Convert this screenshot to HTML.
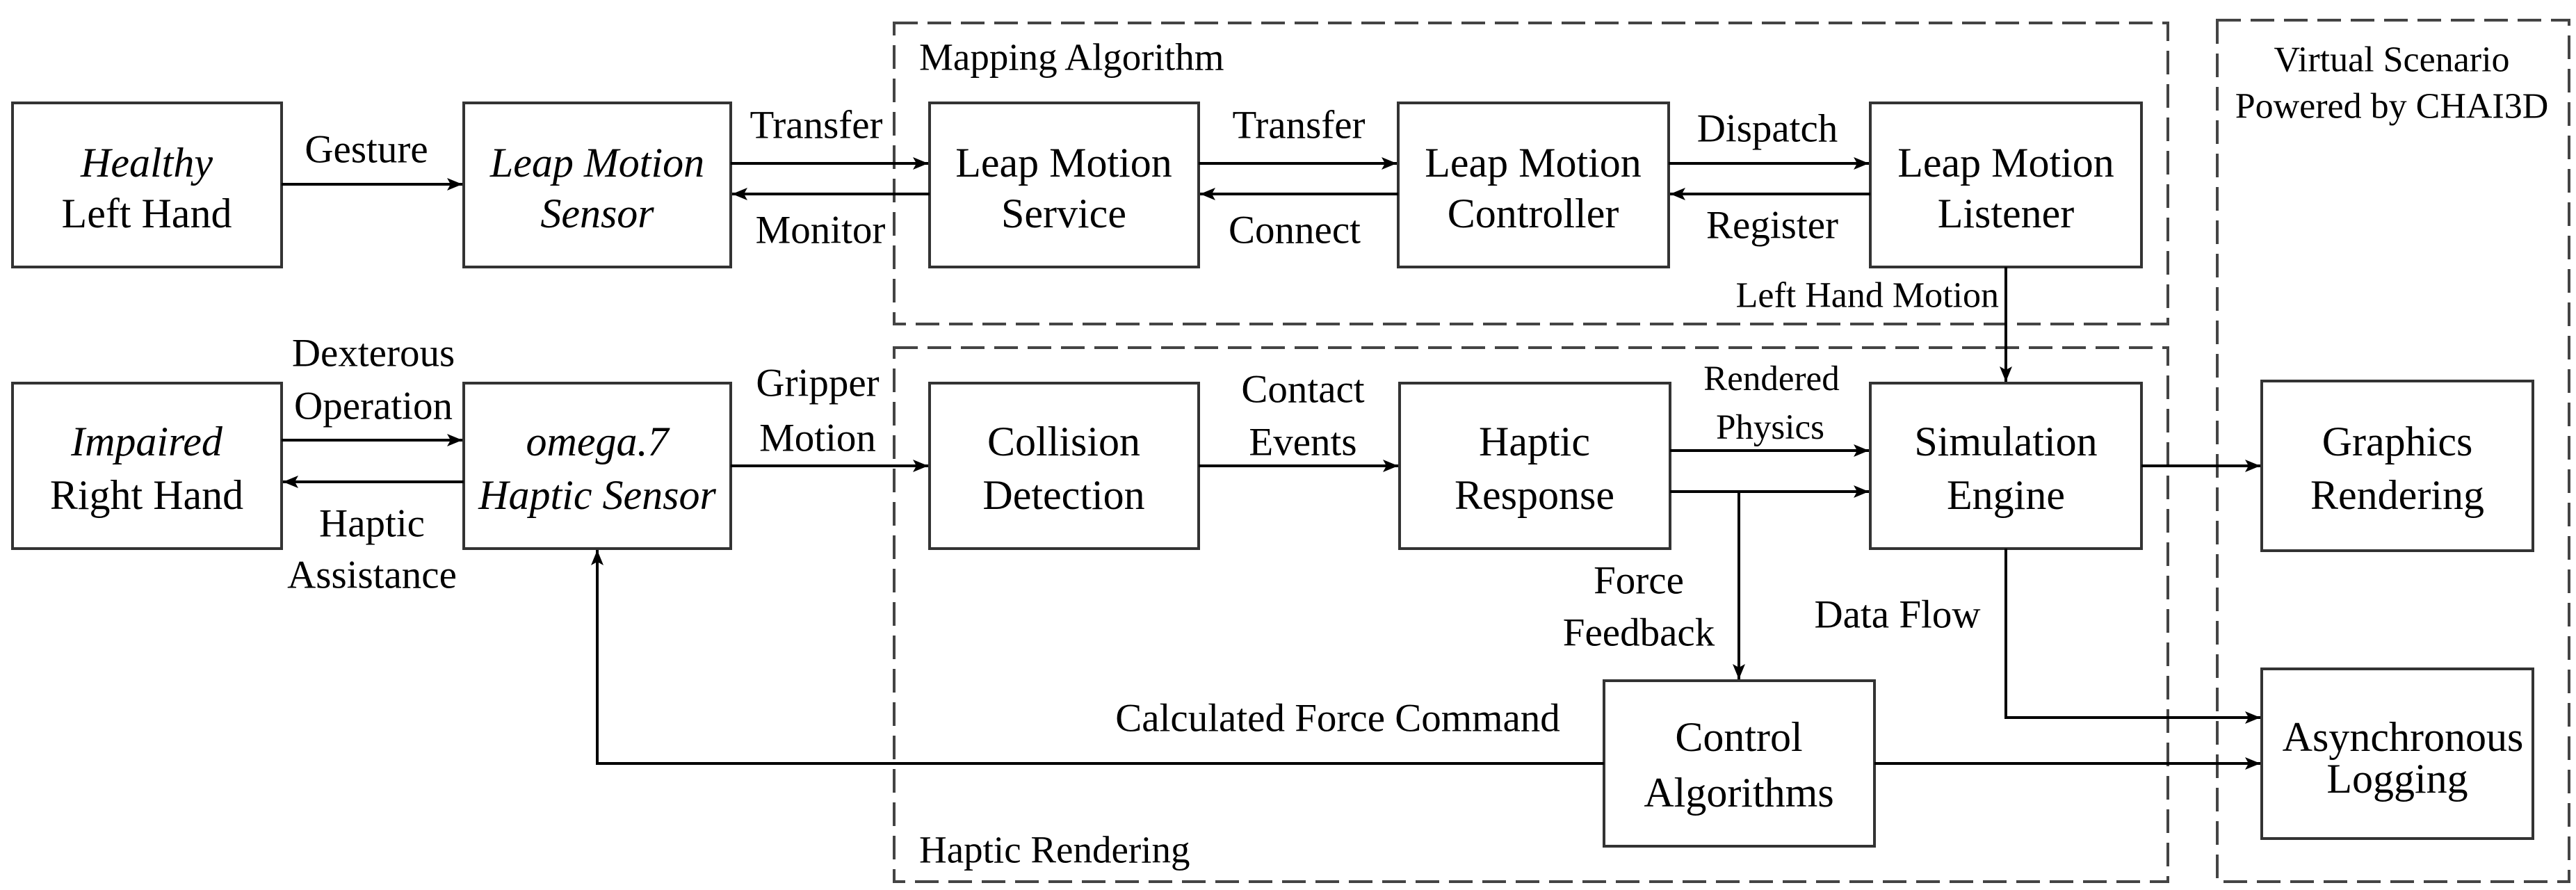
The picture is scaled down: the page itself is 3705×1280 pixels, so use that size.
<!DOCTYPE html>
<html><head><meta charset="utf-8"><style>
html,body{margin:0;padding:0;background:#fff}
svg{display:block}
text{font-family:"Liberation Serif",serif;fill:#000}
</style></head><body>
<svg width="3705" height="1280" viewBox="0 0 3705 1280" xmlns="http://www.w3.org/2000/svg">
<defs>
<marker id="a" markerWidth="24" markerHeight="20" refX="22" refY="10" orient="auto" markerUnits="userSpaceOnUse">
<path d="M0,1 L22,10 L0,19 L5,10 z" fill="#000"/>
</marker>
</defs>
<!-- dashed groups -->
<g fill="none" stroke="#444" stroke-width="4" stroke-dasharray="34 14">
<rect x="1286" y="33" width="1832" height="433"/>
<rect x="1286" y="500" width="1832" height="768"/>
<rect x="3189" y="29" width="506" height="1239"/>
</g>
<!-- boxes -->
<g fill="#fff" stroke="#333" stroke-width="4">
<rect x="18" y="148" width="387" height="236"/>
<rect x="667" y="148" width="384" height="236"/>
<rect x="1337" y="148" width="387" height="236"/>
<rect x="2011" y="148" width="389" height="236"/>
<rect x="2690" y="148" width="390" height="236"/>
<rect x="18" y="551" width="387" height="238"/>
<rect x="667" y="551" width="384" height="238"/>
<rect x="1337" y="551" width="387" height="238"/>
<rect x="2013" y="551" width="389" height="238"/>
<rect x="2690" y="551" width="390" height="238"/>
<rect x="3253" y="548" width="390" height="244"/>
<rect x="3253" y="962" width="390" height="244"/>
<rect x="2307" y="979" width="389" height="238"/>
</g>
<!-- connectors -->
<g fill="none" stroke="#000" stroke-width="4">
<line x1="405" y1="265" x2="665" y2="265" marker-end="url(#a)"/>
<line x1="1051" y1="235" x2="1335" y2="235" marker-end="url(#a)"/>
<line x1="1337" y1="279" x2="1053" y2="279" marker-end="url(#a)"/>
<line x1="1724" y1="235" x2="2009" y2="235" marker-end="url(#a)"/>
<line x1="2011" y1="279" x2="1726" y2="279" marker-end="url(#a)"/>
<line x1="2400" y1="235" x2="2688" y2="235" marker-end="url(#a)"/>
<line x1="2690" y1="279" x2="2402" y2="279" marker-end="url(#a)"/>
<line x1="2885" y1="384" x2="2885" y2="549" marker-end="url(#a)"/>
<line x1="405" y1="633" x2="665" y2="633" marker-end="url(#a)"/>
<line x1="667" y1="693" x2="407" y2="693" marker-end="url(#a)"/>
<line x1="1051" y1="670" x2="1335" y2="670" marker-end="url(#a)"/>
<line x1="1724" y1="670" x2="2011" y2="670" marker-end="url(#a)"/>
<line x1="2402" y1="648" x2="2688" y2="648" marker-end="url(#a)"/>
<line x1="2402" y1="707" x2="2688" y2="707" marker-end="url(#a)"/>
<line x1="2501" y1="707" x2="2501" y2="977" marker-end="url(#a)"/>
<line x1="3080" y1="670" x2="3251" y2="670" marker-end="url(#a)"/>
<polyline points="2885,789 2885,1032 3251,1032" marker-end="url(#a)"/>
<line x1="2696" y1="1098" x2="3251" y2="1098" marker-end="url(#a)"/>
<polyline points="2307,1098 859,1098 859,791" marker-end="url(#a)"/>
</g>
<!-- box labels -->
<g font-size="60" text-anchor="middle" dominant-baseline="central">
<text x="211" y="234" font-style="italic">Healthy</text>
<text x="211" y="307">Left Hand</text>
<text x="859" y="234" font-style="italic">Leap Motion</text>
<text x="859" y="307" font-style="italic">Sensor</text>
<text x="1530" y="234">Leap Motion</text>
<text x="1530" y="307">Service</text>
<text x="2205" y="234">Leap Motion</text>
<text x="2205" y="307">Controller</text>
<text x="2885" y="234">Leap Motion</text>
<text x="2885" y="307">Listener</text>
<text x="211" y="635" font-style="italic">Impaired</text>
<text x="211" y="712">Right Hand</text>
<text x="859" y="635" font-style="italic">omega.7</text>
<text x="859" y="712" font-style="italic">Haptic Sensor</text>
<text x="1530" y="635">Collision</text>
<text x="1530" y="712">Detection</text>
<text x="2207" y="635">Haptic</text>
<text x="2207" y="712">Response</text>
<text x="2885" y="635">Simulation</text>
<text x="2885" y="712">Engine</text>
<text x="3448" y="635">Graphics</text>
<text x="3448" y="712">Rendering</text>
<text x="3456" y="1060">Asynchronous</text>
<text x="3448" y="1120">Logging</text>
<text x="2501" y="1060">Control</text>
<text x="2501" y="1140">Algorithms</text>
</g>
<!-- connector labels -->
<g font-size="57" text-anchor="middle" dominant-baseline="central">
<text x="527" y="215">Gesture</text>
<text x="1174" y="180">Transfer</text>
<text x="1180" y="331">Monitor</text>
<text x="1868" y="180">Transfer</text>
<text x="1862" y="331">Connect</text>
<text x="2542" y="185">Dispatch</text>
<text x="2549" y="324">Register</text>
<text x="2875" y="425" text-anchor="end" font-size="52">Left Hand Motion</text>
<text x="537" y="508">Dexterous</text>
<text x="537" y="584">Operation</text>
<text x="535" y="753">Haptic</text>
<text x="535" y="827">Assistance</text>
<text x="1176" y="551">Gripper</text>
<text x="1176" y="630">Motion</text>
<text x="1874" y="560">Contact</text>
<text x="1874" y="636">Events</text>
<text x="2548" y="545" font-size="51">Rendered</text>
<text x="2546" y="615" font-size="51">Physics</text>
<text x="2357" y="835">Force</text>
<text x="2357" y="910">Feedback</text>
<text x="2729" y="884">Data Flow</text>
<text x="1924" y="1033">Calculated Force Command</text>
</g>
<g font-size="55" dominant-baseline="central">
<text x="1322" y="82">Mapping Algorithm</text>
<text x="1322" y="1222">Haptic Rendering</text>
</g>
<g font-size="52" text-anchor="middle" dominant-baseline="central">
<text x="3440" y="86">Virtual Scenario</text>
<text x="3440" y="153">Powered by CHAI3D</text>
</g>
</svg>
</body></html>
